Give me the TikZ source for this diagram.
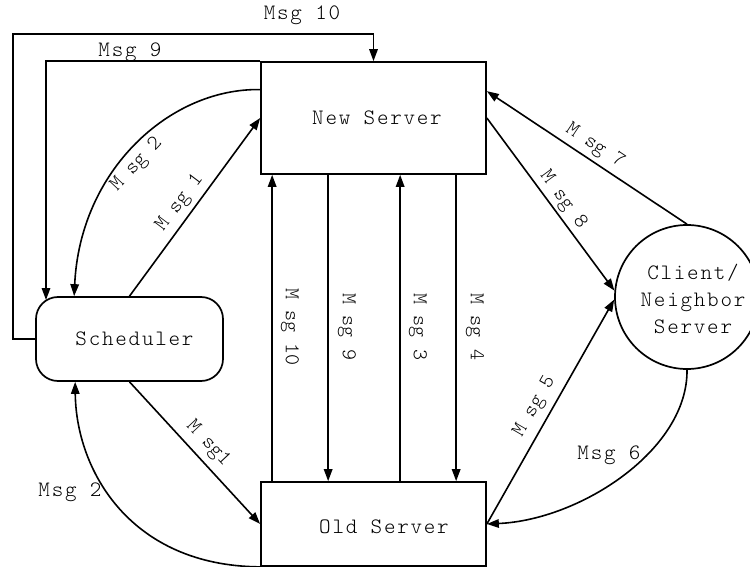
\documentclass[tikz,border=0pt]{standalone}
\usepackage{fontspec}
\newfontfamily\courfont{lmmonolt10-regular.otf}[LetterSpace=8]
\newfontfamily\courtight{lmmonolt10-regular.otf}
\usetikzlibrary{arrows.meta,calc}
\begin{document}
\begin{tikzpicture}[x=1pt,y=-1pt,
  box/.style={draw, line width=1.7pt, inner sep=0pt},
  conn/.style={line width=1.6pt, -{Triangle[length=12pt,width=8.5pt]}},
  lbl/.style={font=\courfont\fontsize{22}{27}\selectfont, inner sep=0pt},
  rlbl/.style={font=\courtight\fontsize{21}{24}\selectfont, inner sep=0pt}]
\useasboundingbox (0,0) rectangle (750,567);

% boxes
\node[box, minimum width=225pt, minimum height=112pt] (new) at (373.5,118) {};
\node[box, minimum width=225pt, minimum height=84pt] (old) at (373.5,524) {};
\node[box, rounded corners=22pt, minimum width=187pt, minimum height=84pt] (sched) at (129.5,339) {};
\node[box, circle, minimum size=144pt] (client) at (687,297) {};

% box texts
\node[lbl] (newtxt) at (377,118) {New Server};
\node[lbl] (oldtxt) at (384,527) {Old Server};
\node[lbl] (schedtxt) at (134.5,339) {Scheduler};
\node[lbl, align=center] (clienttxt) at (693,299) {Client/\\Neighbor\\Server};

% outer loops from the scheduler side
\coordinate (c10a) at (13,339);
\coordinate (c10b) at (13,34);
\draw[conn] (sched.west) -- (c10a) -- (c10b) -| (new.north);
\coordinate (m9) at (46,300);
\draw[conn] (new.north west) -| (m9);

% scheduler <-> servers
\draw[conn] ($(new.north west)!0.25!(new.south west)$) .. controls (170,88) and (80,170) .. ([xshift=39pt]sched.north west);
\draw[conn] (sched.north) -- (new.west);
\draw[conn] (sched.south) -- (old.west);
\draw[conn] (old.south west) .. controls (130,566) and (76,470) .. ([xshift=40pt]sched.south west);

% old <-> new server
\draw[conn] ([xshift=12pt]old.north west) -- ([xshift=12pt]new.south west);
\draw[conn] ([xshift=68pt]new.south west) -- ([xshift=68pt]old.north west);
\draw[conn] ([xshift=140pt]old.north west) -- ([xshift=140pt]new.south west);
\draw[conn] ([xshift=196pt]new.south west) -- ([xshift=196pt]old.north west);

% client / neighbor server
\draw[conn] (client.north) -- ([yshift=-30pt]new.north east);
\draw[conn] (new.east) -- (client.175);
\draw[conn] (old.east) -- (client.182);
\draw[conn] (client.south) .. controls (688,450) and (580,520) .. (old.east);

% message labels
\node[lbl] (l10) at (302,15) {Msg 10};
\node[lbl] (l9) at (130,52) {Msg 9};
\node[rlbl, rotate=47] (l2a) at (137,165) {M sg 2};
\node[rlbl, rotate=53] (l1a) at (180,203) {M sg 1};
\node[rlbl, rotate=-47] (l1b) at (208,444) {M sg1};
\node[lbl] (l2b) at (70,492) {Msg 2};
\node[rlbl, rotate=-90] (lv10) at (290,327) {M sg 10};
\node[rlbl, rotate=-90] (lv9) at (347,327) {M sg 9};
\node[rlbl, rotate=-90] (lv3) at (418,327) {M sg 3};
\node[rlbl, rotate=-90] (lv4) at (475,327) {M sg 4};
\node[rlbl, rotate=-33.6] (l7) at (595,146) {M sg 7};
\node[rlbl, rotate=-53.7] (l8) at (563,200) {M sg 8};
\node[rlbl, rotate=60] (l5) at (535,407) {M sg 5};
\node[lbl] (l6) at (609,455) {Msg 6};
\end{tikzpicture}
\end{document}
